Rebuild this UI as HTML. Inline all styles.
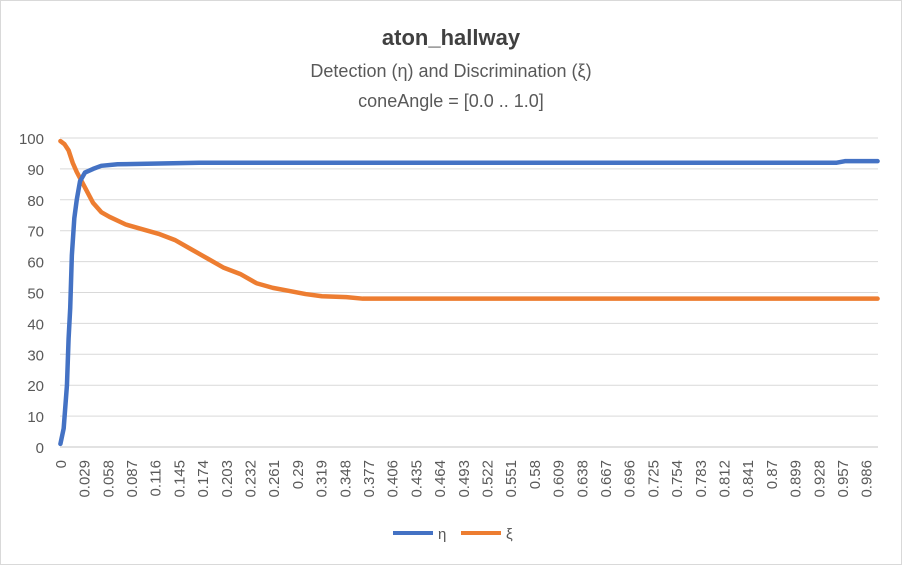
<!DOCTYPE html>
<html><head><meta charset="utf-8"><style>
body{margin:0;background:#fff;font-family:"Liberation Sans",sans-serif}
svg text{font-family:"Liberation Sans",sans-serif}
</style></head><body>
<svg width="902" height="565">
<rect x="0.5" y="0.5" width="901" height="564" fill="#fff" stroke="#d9d9d9"/>
<text x="451" y="45" text-anchor="middle" font-size="22" font-weight="bold" fill="#404040">aton_hallway</text>
<text x="451" y="77" text-anchor="middle" font-size="18" fill="#595959">Detection (η) and Discrimination (ξ)</text>
<text x="451" y="107" text-anchor="middle" font-size="18" fill="#595959">coneAngle = [0.0 .. 1.0]</text>
<g id="grid"></g><g id="xl"></g><g id="series"></g>
<g>
<line x1="393" y1="533" x2="433" y2="533" stroke="#4472c4" stroke-width="4"/>
<text x="438" y="539" font-size="15" fill="#595959">η</text>
<line x1="461" y1="533" x2="501" y2="533" stroke="#ed7d31" stroke-width="4"/>
<text x="506" y="539" font-size="15" fill="#595959">ξ</text>
</g>
</svg>
<script>
const yTicks=[0,10,20,30,40,50,60,70,80,90,100];
const etaX=[0,0.004,0.008,0.01,0.012,0.014,0.017,0.02,0.024,0.03,0.04,0.05,0.07,0.17,0.95,0.96,1.0];
const etaY=[1,6,20,35,45,62,74,80,86,88.8,90,91,91.5,92,92,92.5,92.5];
const xiX=[0,0.005,0.01,0.015,0.02,0.03,0.04,0.05,0.06,0.08,0.1,0.12,0.14,0.16,0.18,0.2,0.22,0.24,0.26,0.28,0.3,0.32,0.35,0.37,1.0];
const xiY=[99,98,96,92,89,84,79,76,74.5,72,70.5,69,67,64,61,58,56,53,51.5,50.5,49.5,48.8,48.5,48,48];
const NS="http://www.w3.org/2000/svg";
const x0=60,x1=878,yb=447,yt=138;
function X(v){return x0+(v/0.001+0.5)*(x1-x0)/1001;}
function Y(v){return yb-(v/100)*(yb-yt);}
function mk(t,a,p){const e=document.createElementNS(NS,t);for(const k in a)e.setAttribute(k,a[k]);p.appendChild(e);return e;}
const g=document.getElementById('grid');
yTicks.forEach(t=>{
 const l=mk('line',{x1:x0,x2:x1,y1:Y(t),y2:Y(t),stroke:'#d9d9d9','stroke-width':t===0?1.5:1},g);
 
 
 const tx=mk('text',{x:44,y:Y(t)+6,'text-anchor':'end','font-size':15,fill:'#595959'},g);
 tx.textContent=t;
 
 
});
const xl=document.getElementById('xl');
for(let i=0;i<=34;i++){
 const v=i*0.029;const lab=String(+v.toFixed(3));
 const px=X(v)+5.5;
 const tx=mk('text',{x:0,y:0,transform:`translate(${px},460) rotate(-90)`,'text-anchor':'end','font-size':15,fill:'#595959'},xl);
 tx.textContent=lab;
 
 
}
const s=document.getElementById('series');
function line(xs,ys,c,n){
 const p=mk('polyline',{points:xs.map((v,i)=>X(v)+','+Y(ys[i])).join(' '),fill:'none',stroke:c,'stroke-width':4.5,'stroke-linejoin':'round','stroke-linecap':'round'},s);
 
 
}
line(xiX,xiY,'#ed7d31','series-xi');
line(etaX,etaY,'#4472c4','series-eta');
</script>
</body></html>
